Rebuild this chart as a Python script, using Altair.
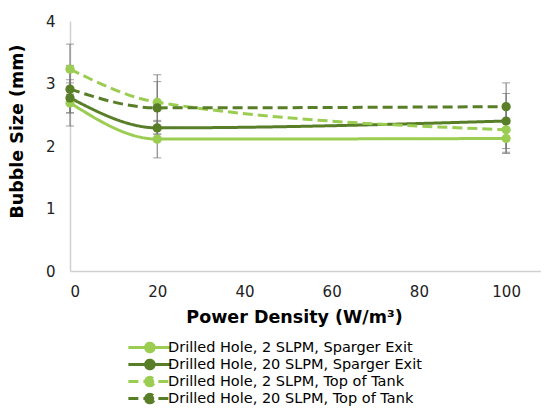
import altair as alt
import pandas as pd

power = [0, 20, 100]
series_names = [
    "Drilled Hole, 2 SLPM, Sparger Exit",
    "Drilled Hole, 20 SLPM, Sparger Exit",
    "Drilled Hole, 2 SLPM, Top of Tank",
    "Drilled Hole, 20 SLPM, Top of Tank",
]
s2_exit = [2.69, 2.11, 2.12]
s20_exit = [2.77, 2.29, 2.40]
s2_top = [3.23, 2.70, 2.26]
s20_top = [2.91, 2.61, 2.63]

e2_exit = [0.37, 0.30, 0.24]
e20_exit = [0.24, 0.10, 0.44]
e2_top = [0.40, 0.44, 0.36]
e20_top = [0.38, 0.42, 0.38]

colors = ["#9BCD52", "#587E28", "#9BCD52", "#587E28"]
dashes = [[1, 0], [1, 0], [10, 5], [10, 5]]

rows = []
for name, vals, errs in zip(series_names, [s2_exit, s20_exit, s2_top, s20_top],
                            [e2_exit, e20_exit, e2_top, e20_top]):
    for x, v, e in zip(power, vals, errs):
        rows.append({"series": name, "power": x, "size": v, "lo": v - e, "hi": v + e})
df = pd.DataFrame(rows)

font = "DejaVu Sans"

xscale = alt.Scale(domain=[0, 108], nice=False)
yscale = alt.Scale(domain=[0, 4], nice=False)

color_scale = alt.Scale(domain=series_names, range=colors)
dash_scale = alt.Scale(domain=series_names, range=dashes)

legend_symbol = ("M -0.75 0 L 1.25 0 M 0.05 0 A 0.2 0.2 0 1 1 0.45 0 "
                 "A 0.2 0.2 0 1 1 0.05 0 Z")


def make_legend():
    return alt.Legend(title=None, orient="none", legendX=51, legendY=318,
                      direction="vertical", symbolType=legend_symbol,
                      symbolSize=1850, symbolStrokeWidth=3, clipHeight=17,
                      labelFontSize=14.5, labelFont=font, labelColor="#000000",
                      labelLimit=400, rowPadding=0, labelOffset=0, padding=0,
                      symbolOffset=0)


base = alt.Chart(df)

x_enc = alt.X("power:Q", scale=xscale,
              axis=alt.Axis(title="Power Density (W/m³)", values=[0, 20, 40, 60, 80, 100],
                            grid=False, ticks=False, labelPadding=13, titlePadding=9,
                            format="d", titleX=224))
y_enc = alt.Y("size:Q", scale=yscale,
              axis=alt.Axis(title="Bubble Size (mm)", values=[0, 1, 2, 3, 4],
                            grid=False, ticks=False, labelPadding=15, titlePadding=19,
                            format="d", titleY=110))

err_rule = base.mark_rule(color="#737373", strokeWidth=1).encode(
    x=alt.X("power:Q", scale=xscale), y=alt.Y("lo:Q", scale=yscale), y2="hi:Q")
cap_lo = base.mark_tick(color="#737373", thickness=1, size=8, orient="horizontal").encode(
    x=alt.X("power:Q", scale=xscale), y=alt.Y("lo:Q", scale=yscale))
cap_hi = base.mark_tick(color="#737373", thickness=1, size=8, orient="horizontal").encode(
    x=alt.X("power:Q", scale=xscale), y=alt.Y("hi:Q", scale=yscale))

lines = base.mark_line(strokeWidth=3, interpolate="monotone").encode(
    x=x_enc, y=y_enc,
    color=alt.Color("series:N", scale=color_scale, sort=series_names, legend=make_legend()),
    strokeDash=alt.StrokeDash("series:N", scale=dash_scale, sort=series_names,
                              legend=make_legend()),
    detail="series:N",
)
points = base.mark_point(filled=True, size=85, opacity=1).encode(
    x=alt.X("power:Q", scale=xscale), y=alt.Y("size:Q", scale=yscale),
    color=alt.Color("series:N", scale=color_scale, sort=series_names, legend=None),
)

chart = alt.layer(err_rule, cap_lo, cap_hi, lines, points).properties(
    width=471, height=250, padding={"left": 0, "top": 6, "right": 0, "bottom": 0}
).configure_view(stroke=None).configure_axis(
    domainColor="#d0d0d0", domainWidth=1.5,
    labelFont=font, labelFontSize=15, labelColor="#222222",
    titleFont=font, titleFontSize=17.5, titleFontWeight="bold", titleColor="#000000",
)

chart.save("out.html", embed_options={"renderer": "svg", "actions": False})
